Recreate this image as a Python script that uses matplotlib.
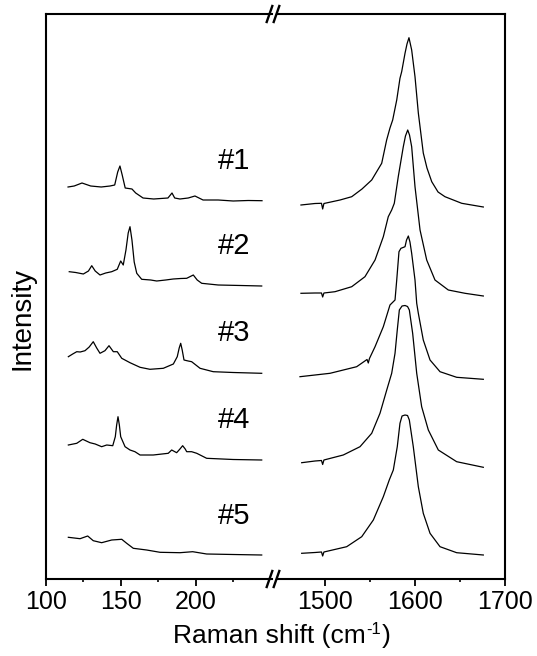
import numpy as np
import matplotlib
matplotlib.use('Agg')
import matplotlib.pyplot as plt
from matplotlib.lines import Line2D

plt.rcParams['font.family'] = ['Liberation Sans', 'DejaVu Sans']

# Low wavenumber region (cm-1) and intensities (offset, arb. units)
lo1_x = [114.9, 119, 124.2, 130, 137, 142.9, 146, 148, 149.5, 151, 153, 157.5, 160, 164.9, 172,
         181.5, 184.2, 186, 189.5, 195, 199.5, 204.9, 215, 225, 235, 244.2]
lo1_y = [392, 393, 396, 393, 392, 393, 394, 407, 413, 404, 391, 390, 386, 381, 380,
         381, 386, 381, 380, 381, 383, 379, 379, 378, 378.5, 378.3]

lo2_x = [115.7, 120, 125.1, 128.5, 130.7, 133, 136.2, 140, 144, 147.7, 150, 151.7, 153.5, 155,
         156.2, 157.5, 159, 160.7, 164, 170, 174, 180, 185, 190, 194, 198.4, 201, 204, 215, 230, 244]
lo2_y = [307.3, 306.5, 305, 308, 313.3, 308, 304, 306, 307.3, 309.7, 318, 314, 329, 346,
         352.3, 339, 317, 305.7, 299.7, 299, 298, 299, 300, 300.5, 300.7, 304, 299, 295.7, 294, 293.5, 293]

lo3_x = [115.1, 118, 120.7, 123, 126.2, 129, 131.7, 134, 136.2, 139.5, 142.2, 145.1, 147.7, 150.7,
         156.2, 162.9, 169.5, 178.4, 185.1, 187.7, 189, 190, 191, 192.2, 195, 197.3, 202.9, 211.7, 225, 244]
lo3_y = [222.3, 225, 227.3, 227, 228.3, 232, 237.3, 231, 225.7, 228.3, 233.3, 227.3, 227.3, 220.7,
         216.3, 211.7, 209.7, 210.7, 215, 222.3, 231, 235.7, 229, 219, 218, 217.3, 210.7, 207.3, 206.5, 205.7]

lo4_x = [115.1, 120.7, 124.7, 129.5, 133, 137.3, 140.7, 144.7, 146.4, 147.3, 148.2, 149.1, 150,
         152.9, 156.2, 159.5, 162.9, 171.7, 181.7, 184, 187.3, 189.5, 191.3, 193, 194, 197.3, 200.7,
         207.3, 225, 244]
lo4_y = [134, 135.7, 139.7, 136.3, 135, 132.3, 134, 133.3, 142.3, 154, 162.3, 154, 142.3,
         132.3, 129, 127.3, 124, 124, 125.7, 129, 126.3, 130, 133.3, 130, 127.3, 127.3, 125.7,
         120.7, 119.5, 119]

lo5_x = [115.1, 122.9, 128, 131.7, 137.3, 144, 150.7, 154, 158.4, 167.3, 176.2, 189.5, 198, 207.3, 225, 244]
lo5_y = [41.7, 40.3, 43, 38.3, 36.3, 39, 39.7, 35.7, 30.7, 29, 26.7, 26.3, 27.3, 25, 24.5, 24]

# High wavenumber region (G band)
hi1_x = [1473.3, 1488.9, 1496.1, 1497.4, 1498.8, 1516.7, 1529.7, 1541.1, 1551.9, 1563, 1568.5,
         1572.2, 1575.2, 1579.7, 1583.3, 1585.2, 1588.9, 1591.1, 1593.3, 1596.3, 1600, 1603.7,
         1609.2, 1613.3, 1618.6, 1625.6, 1633.3, 1651.9, 1675.9]
hi1_y = [374, 375.5, 375.7, 370, 375.5, 379, 382.3, 390, 399, 415.7, 439,
         451, 459, 479, 500.7, 507.3, 525.7, 535, 541.3, 529, 502.3, 466,
         426, 411, 397.3, 387, 382.3, 375.7, 372]

hi2_x = [1473.3, 1488.9, 1496.1, 1497.4, 1498.8, 1511.1, 1529.7, 1544.4, 1555.6, 1564.8, 1570.3,
         1574.1, 1577, 1581.4, 1587, 1589.4, 1591.9, 1593.9, 1596.3, 1600, 1605.6, 1613, 1622.2,
         1637, 1655.6, 1675.9]
hi2_y = [285.7, 286, 286, 282, 286, 287.3, 292.3, 302.3, 319, 342.3, 362.3,
         369, 375.7, 402.3, 432.3, 443, 449, 444, 432.3, 392.3, 349, 319, 299,
         289, 285.7, 283]

hi3_x = [1472.2, 1505.6, 1535.2, 1546.7, 1548.1, 1549.4, 1555.6, 1564.8, 1572.2, 1577.8, 1579.7,
         1582.2, 1584.4, 1586.7, 1588.9, 1590.6, 1592.6, 1594.4, 1596.3, 1600, 1601.9, 1603.7,
         1609.2, 1616.7, 1627.8, 1646.3, 1675.9]
hi3_y = [202.3, 205.7, 212.3, 219.5, 216, 220.5, 232.3, 252.3, 274, 279, 299,
         327.3, 330.7, 331.5, 332.3, 339, 343, 337, 325.7, 299, 275.7, 265.7,
         239, 219, 207.3, 201.7, 199.7]

hi4_x = [1474.1, 1488.9, 1496.1, 1497.4, 1498.8, 1520.3, 1538.9, 1551.9, 1561.1, 1568.6, 1574.1,
         1577.8, 1580.3, 1582.6, 1585.6, 1588.9, 1591.7, 1593.7, 1597.4, 1601.9, 1607.4, 1614.8,
         1625.9, 1646.3, 1675.9]
hi4_y = [116.3, 118, 118.5, 114.5, 119, 124, 132.3, 145.7, 165.7, 189, 205.7,
         225.7, 249, 269, 273, 273.5, 272.5, 269, 245.7, 205.7, 172.3, 149,
         129, 117.3, 111.7]

hi5_x = [1474.1, 1488.9, 1496.1, 1497.4, 1498.8, 1524.1, 1540.8, 1553.7, 1564.8, 1571.4, 1575.9,
         1580.3, 1583.3, 1585.6, 1588.9, 1591.7, 1593.7, 1598.1, 1603.7, 1609.2, 1616.7, 1627.8,
         1646.3, 1675.9]
hi5_y = [25.7, 26.5, 27, 23, 27, 32.3, 42.3, 59, 82.3, 99, 109,
         132.3, 155.7, 163, 164, 163.5, 159, 132.3, 92.3, 65.7, 45.7, 32.3,
         26.3, 24]

sample_labels = ['#1', '#2', '#3', '#4', '#5']
label_y = [418, 333, 246, 159, 63]

W, H = 537, 656
fig = plt.figure(figsize=(W / 100, H / 100), dpi=100)

# axes placement in pixels
x0, xb1, xb2, x1 = 45.7, 272.2, 277.3, 505.0
yb, yt = 579.0, 14.0
ax1 = fig.add_axes([x0 / W, 1 - yb / H, (xb1 - x0) / W, (yb - yt) / H])
ax2 = fig.add_axes([xb2 / W, 1 - yb / H, (x1 - xb2) / W, (yb - yt) / H])

for xs, ys in [(lo1_x, lo1_y), (lo2_x, lo2_y), (lo3_x, lo3_y), (lo4_x, lo4_y), (lo5_x, lo5_y)]:
    ax1.plot(xs, ys, color='black', lw=0.9)
for xs, ys in [(hi1_x, hi1_y), (hi2_x, hi2_y), (hi3_x, hi3_y), (hi4_x, hi4_y), (hi5_x, hi5_y)]:
    ax2.plot(xs, ys, color='black', lw=0.9)

for lab, yy in zip(sample_labels, label_y):
    ax1.text(225.5, yy, lab, fontsize=21, ha='center', va='center')

ax1.set_xlim(100, 251)
ax2.set_xlim(1447, 1700)
for ax in (ax1, ax2):
    ax.set_ylim(0, 565)
    ax.set_yticks([])
    for s in ax.spines.values():
        s.set_linewidth(1.5)
    ax.tick_params(axis='x', which='major', direction='out', length=5, width=1.3,
                   labelsize=18, pad=3, top=False)
    ax.tick_params(axis='x', which='minor', direction='out', length=2.5, width=1.2, top=False)

ax1.spines['right'].set_visible(False)
ax2.spines['left'].set_visible(False)
ax1.set_xticks([100, 150, 200])
ax1.set_xticks([125, 175, 225], minor=True)
ax2.set_xticks([1500, 1600, 1700])
ax2.set_xticks([1550, 1650], minor=True)

# break marks "//" on top and bottom spines
def px(x, y):
    return x / W, 1 - y / H

for yy in (yt, yb):
    for xc in (269.5, 276.5):
        (xa, ya), (xz, yz) = px(xc - 2.8, yy + 8), px(xc + 2.8, yy - 8)
        fig.add_artist(Line2D([xa, xz], [ya, yz], color='black', lw=1.7))

# x label with a hyphen superscript, pieced together and centred
renderer = fig.canvas.get_renderer()
base_y = 1 - 643 / H
parts = [('Raman shift (cm', 19, 0), ('-1', 12, 9), (')', 19, 0)]
texts, xpos = [], 0.0
for s, fs, dy in parts:
    t = fig.text(0, base_y + dy / H, s, fontsize=fs, ha='left', va='baseline')
    w = t.get_window_extent(renderer).width
    texts.append((t, xpos))
    xpos += w + (1 if s == '-1' else 0)
start = 282 - xpos / 2
for t, off in texts:
    t.set_x((start + off) / W)

fig.text(22 / W, 1 - 319 / H, 'Intensity', fontsize=20, rotation=90, ha='center', va='center')

fig.savefig('out.png', dpi=100)
